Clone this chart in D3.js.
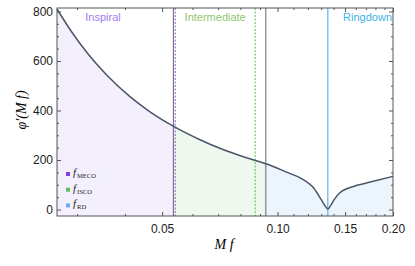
<!DOCTYPE html>
<html>
<head>
<meta charset="utf-8">
<script src="https://cdn.jsdelivr.net/npm/d3@7"></script>
<style>
  body { margin: 0; background: #fff; }
  svg text { font-family: "Liberation Sans", Arial, sans-serif; }
</style>
</head>
<body>
<div id="chart"></div>
<script>
var margin = {top: 8, right: 22, bottom: 50, left: 57},
    width = 415 - margin.left - margin.right,
    height = 266 - margin.top - margin.bottom;

// curve: frequency Mf and phase derivative
var freqs  = [0.0266, 0.0290, 0.0321, 0.0360, 0.0413, 0.0460, 0.0536, 0.0630, 0.0669, 0.0800, 0.0932, 0.0960, 0.1051, 0.1151, 0.1245, 0.1299, 0.1330, 0.1352, 0.1373, 0.1406, 0.1449, 0.1475, 0.1509, 0.1620, 0.1755, 0.2000];
var phase  = [810, 719, 627, 540, 455, 400, 336, 281, 263, 217, 185, 178, 152, 126, 85, 41, 15, 2, 15, 41, 66, 75, 83, 99, 112, 134];

// boundary frequencies
var fMECO = 0.0541, fISCO = 0.0874, fRD = 0.1352;
var regionEdges = [0.0266, 0.0535, 0.0932, 0.2];
var regionNames = ["Inspiral", "Intermediate", "Ringdown"];
var regionFill = ["#f4effc", "#eef8ee", "#ecf4fc"];
var regionText = ["#a57ded", "#8fc66f", "#3fb3e3"];

var yTicks = [0, 200, 400, 600, 800];
var xTicks = [0.05, 0.10, 0.15, 0.20];
var xMinor = [0.03, 0.04, 0.06, 0.07, 0.08, 0.09, 0.11, 0.12, 0.13, 0.14, 0.16, 0.17, 0.18, 0.19];
var legendNames = ["MECO", "ISCO", "RD"];
var legendColors = ["#8a3fd8", "#5cbf5c", "#6aaef0"];

var data = freqs.map(function(f, i) { return {f: f, p: phase[i]}; });

var svg = d3.select("#chart")
  .append("svg")
    .attr("width", width + margin.left + margin.right)
    .attr("height", height + margin.top + margin.bottom)
  .append("g")
    .attr("transform", "translate(" + margin.left + "," + margin.top + ")");

var x = d3.scaleLog()
    .domain([0.0266, 0.2])
    .range([0, width]);

var y = d3.scaleLinear()
    .domain([-26, 814])
    .range([height, 0]);

var area = d3.area()
    .curve(d3.curveMonotoneX)
    .x(function(d) { return x(d.f); })
    .y0(height)
    .y1(function(d) { return y(d.p); });

var line = d3.line()
    .curve(d3.curveMonotoneX)
    .x(function(d) { return x(d.f); })
    .y(function(d) { return y(d.p); });

// shaded regions under the curve
regionNames.forEach(function(name, i) {
  svg.append("clipPath")
      .attr("id", "clip" + i)
    .append("rect")
      .attr("x", x(regionEdges[i]))
      .attr("y", 0)
      .attr("width", x(regionEdges[i + 1]) - x(regionEdges[i]))
      .attr("height", height);

  svg.append("path")
      .datum(data)
      .attr("clip-path", "url(#clip" + i + ")")
      .attr("fill", regionFill[i])
      .attr("d", area);
});

// vertical boundary lines
[regionEdges[1], regionEdges[2]].forEach(function(f) {
  svg.append("line")
      .attr("x1", x(f)).attr("x2", x(f))
      .attr("y1", 0).attr("y2", height)
      .attr("stroke", "#666")
      .attr("stroke-width", 1);
});

svg.append("line")
    .attr("x1", x(fMECO)).attr("x2", x(fMECO))
    .attr("y1", 0).attr("y2", height)
    .attr("stroke", "#a66ee8")
    .attr("stroke-width", 1.2)
    .attr("stroke-dasharray", "2,1.5");

svg.append("line")
    .attr("x1", x(fISCO)).attr("x2", x(fISCO))
    .attr("y1", 0).attr("y2", height)
    .attr("stroke", "#4cc24c")
    .attr("stroke-width", 1)
    .attr("stroke-dasharray", "2,1.5");

svg.append("line")
    .attr("x1", x(fRD)).attr("x2", x(fRD))
    .attr("y1", 0).attr("y2", height)
    .attr("stroke", "#7cc0f4")
    .attr("stroke-width", 1.5);

// the curve
svg.append("path")
    .datum(data)
    .attr("fill", "none")
    .attr("stroke", "#4a5568")
    .attr("stroke-width", 1.5)
    .attr("d", line);

// region labels
svg.append("text")
    .attr("x", 46)
    .attr("y", 13)
    .attr("text-anchor", "middle")
    .style("font-size", "11px")
    .style("fill", regionText[0])
    .text(regionNames[0]);

svg.append("text")
    .attr("x", (x(fMECO) + x(fISCO)) / 2)
    .attr("y", 13)
    .attr("text-anchor", "middle")
    .style("font-size", "11px")
    .style("fill", regionText[1])
    .text(regionNames[1]);

svg.append("text")
    .attr("x", width - 1)
    .attr("y", 13)
    .attr("text-anchor", "end")
    .style("font-size", "11px")
    .style("fill", regionText[2])
    .text(regionNames[2]);

// frame with inward ticks
svg.append("rect")
    .attr("width", width)
    .attr("height", height)
    .attr("fill", "none")
    .attr("stroke", "#555")
    .attr("stroke-width", 1);

var yMinor = d3.range(0, 801, 50).filter(function(v) { return v % 200 !== 0; });

svg.append("g")
    .call(d3.axisLeft(y).tickValues(yTicks).tickSize(-4).tickPadding(4))
    .call(function(g) { g.select(".domain").remove(); });
svg.append("g")
    .call(d3.axisLeft(y).tickValues(yMinor).tickSize(-2).tickFormat(""))
    .call(function(g) { g.select(".domain").remove(); });
svg.append("g")
    .attr("transform", "translate(" + width + ",0)")
    .call(d3.axisRight(y).tickValues(yTicks).tickSize(-4).tickFormat(""))
    .call(function(g) { g.select(".domain").remove(); });
svg.append("g")
    .attr("transform", "translate(" + width + ",0)")
    .call(d3.axisRight(y).tickValues(yMinor).tickSize(-2).tickFormat(""))
    .call(function(g) { g.select(".domain").remove(); });

svg.append("g")
    .attr("transform", "translate(0," + height + ")")
    .call(d3.axisBottom(x).tickValues(xTicks).tickSize(-4).tickPadding(8).tickFormat(d3.format(".2f")))
    .call(function(g) { g.select(".domain").remove(); });
svg.append("g")
    .attr("transform", "translate(0," + height + ")")
    .call(d3.axisBottom(x).tickValues(xMinor).tickSize(-2).tickFormat(""))
    .call(function(g) { g.select(".domain").remove(); });
svg.append("g")
    .call(d3.axisTop(x).tickValues(xTicks).tickSize(-4).tickFormat(""))
    .call(function(g) { g.select(".domain").remove(); });
svg.append("g")
    .call(d3.axisTop(x).tickValues(xMinor).tickSize(-2).tickFormat(""))
    .call(function(g) { g.select(".domain").remove(); });

svg.selectAll(".tick line").attr("stroke", "#555");
svg.selectAll(".tick text")
    .style("font-family", "'Liberation Sans', Arial, sans-serif")
    .style("font-size", "12px")
    .style("fill", "#222");

// legend
legendNames.forEach(function(name, i) {
  var ly = 168 + i * 15.7;
  svg.append("rect")
      .attr("x", 9)
      .attr("y", ly - 4)
      .attr("width", 4)
      .attr("height", 4)
      .attr("fill", legendColors[i]);
  var t = svg.append("text")
      .attr("x", 16)
      .attr("y", ly)
      .style("font-family", "'Liberation Serif', 'DejaVu Serif', serif")
      .style("fill", "#222");
  t.append("tspan")
      .style("font-style", "italic")
      .style("font-size", "11px")
      .text("f");
  t.append("tspan")
      .attr("dy", 2)
      .attr("dx", 1)
      .style("font-size", "6.5px")
      .text(name);
});

// axis titles
svg.append("text")
    .attr("x", 167)
    .attr("y", height + 33)
    .attr("text-anchor", "middle")
    .style("font-family", "'Liberation Serif', 'DejaVu Serif', serif")
    .style("font-style", "italic")
    .style("font-size", "14px")
    .text("M f");

svg.append("text")
    .attr("transform", "rotate(-90)")
    .attr("x", -102)
    .attr("y", -31)
    .attr("text-anchor", "middle")
    .style("font-family", "'Liberation Serif', 'DejaVu Serif', serif")
    .style("font-style", "italic")
    .style("font-size", "14px")
    .text("φ′(M f)");
</script>
</body>
</html>
